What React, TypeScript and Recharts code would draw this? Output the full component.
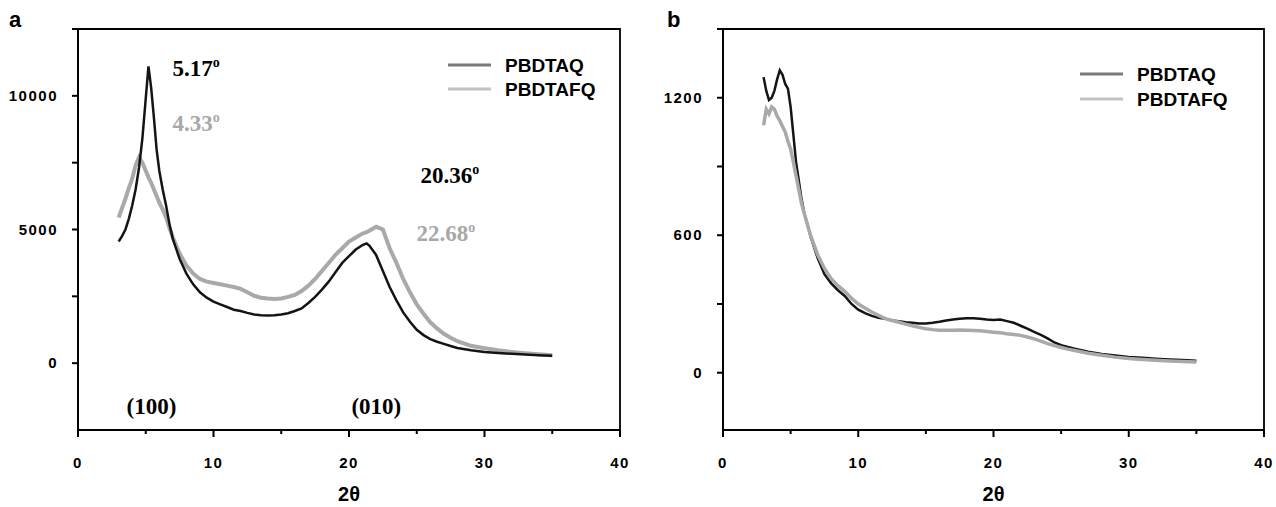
import React from 'react';
import { LineChart, Line, XAxis, YAxis, ReferenceDot, Legend } from 'recharts';

// ---------- Panel a data ----------
const aX = [3, 3.25, 3.5, 3.75, 4, 4.25, 4.5, 4.75, 5, 5.2, 5.4, 5.6, 5.8, 6, 6.25, 6.5, 6.75, 7, 7.5, 8, 8.5, 9, 9.5, 10, 10.5, 11, 11.5, 12, 12.5, 13, 13.5, 14, 14.5, 15, 15.5, 16, 16.5, 17, 17.5, 18, 18.5, 19, 19.5, 20, 20.5, 21, 21.3, 21.5, 22, 22.5, 23, 23.5, 24, 24.5, 25, 25.5, 26, 26.5, 27, 27.5, 28, 29, 30, 31, 32, 33, 34, 35];
const aPBDTAQ = [4550, 4750, 5000, 5400, 5900, 6500, 7300, 8400, 9900, 11100, 10300, 9200, 8000, 7200, 6500, 5900, 5200, 4650, 3900, 3350, 2950, 2650, 2450, 2300, 2200, 2100, 2000, 1950, 1880, 1820, 1790, 1780, 1790, 1820, 1870, 1950, 2050, 2250, 2480, 2750, 3050, 3400, 3750, 4000, 4250, 4420, 4480, 4400, 4050, 3450, 2850, 2350, 1900, 1550, 1250, 1050, 900, 800, 720, 640, 570, 480, 420, 380, 350, 320, 300, 280];
const aPBDTAFQ = [5450, 5800, 6150, 6550, 6900, 7400, 7700, 7500, 7200, 6950, 6750, 6500, 6250, 6000, 5750, 5450, 5050, 4700, 4100, 3650, 3350, 3150, 3050, 3000, 2950, 2900, 2850, 2780, 2650, 2520, 2450, 2420, 2400, 2420, 2480, 2550, 2700, 2900, 3150, 3450, 3750, 4050, 4300, 4550, 4700, 4850, 4900, 4950, 5100, 5000, 4300, 3750, 3150, 2650, 2200, 1850, 1530, 1300, 1100, 950, 820, 650, 560, 480, 420, 370, 330, 300];

// ---------- Panel b data ----------
const bX = [3, 3.2, 3.4, 3.6, 3.8, 4, 4.2, 4.4, 4.6, 4.8, 5, 5.2, 5.4, 5.6, 5.8, 6, 6.5, 7, 7.5, 8, 8.5, 9, 9.5, 10, 10.5, 11, 11.5, 12, 12.5, 13, 13.5, 14, 14.5, 15, 15.5, 16, 16.5, 17, 17.5, 18, 18.5, 19, 19.5, 20, 20.5, 21, 21.5, 22, 22.5, 23, 23.5, 24, 24.5, 25, 25.5, 26, 27, 28, 29, 30, 31, 32, 33, 34, 35];
const bPBDTAQ = [1290, 1230, 1190, 1200, 1230, 1280, 1320, 1300, 1260, 1240, 1160, 1040, 920, 840, 760, 700, 590, 500, 430, 390, 360, 335, 300, 275, 260, 248, 240, 235, 228, 225, 220, 218, 215, 215, 218, 222, 228, 232, 235, 238, 238, 236, 232, 230, 232, 225, 218, 205, 192, 178, 165, 150, 132, 120, 112, 105, 92, 82, 75, 69, 65, 61, 58, 55, 52];
const bPBDTAFQ = [1080, 1150, 1130, 1160, 1150, 1120, 1100, 1075, 1050, 1010, 975, 920, 860, 800, 740, 696, 595, 515, 455, 410, 380, 355, 325, 300, 282, 265, 250, 236, 228, 220, 212, 205, 198, 192, 188, 185, 185, 185, 186, 185, 184, 183, 180, 177, 174, 170, 167, 163, 156, 148, 138, 127, 118, 110, 103, 97, 85, 76, 68, 62, 58, 54, 51, 49, 47];

// ---------- Axes ----------
const xDomain: [number, number] = [0, 40];
const xTicks = [0, 5, 10, 15, 20, 25, 30, 35, 40];
const xLabeled = [0, 10, 20, 30, 40];
const aYDomain: [number, number] = [-2500, 12500];
const aYTicks = [0, 2500, 5000, 7500, 10000, 12500];
const aYLabeled = [0, 5000, 10000];
const bYDomain: [number, number] = [-250, 1500];
const bYTicks = [0, 300, 600, 900, 1200, 1500];
const bYLabeled = [0, 600, 1200];

const seriesNames = ['PBDTAQ', 'PBDTAFQ'];

// annotations (data coordinates) for panel a
const aAnnotations = [
  { x: 6.97, y: 10750, text: '5.17', deg: true, color: '#000' },
  { x: 6.97, y: 8690, text: '4.33', deg: true, color: '#a8a8a8' },
  { x: 25.27, y: 6740, text: '20.36', deg: true, color: '#000' },
  { x: 24.98, y: 4560, text: '22.68', deg: true, color: '#a8a8a8' },
  { x: 3.58, y: -1895, text: '(100)', deg: false, color: '#000' },
  { x: 20.18, y: -1895, text: '(010)', deg: false, color: '#000' },
];

const SANS = '"Liberation Sans", Arial, sans-serif';
const SERIF = '"Liberation Serif", "Times New Roman", serif';
const BLACK = '#141414';
const GRAY = '#a9a9a9';

const XTick = (props: any) => {
  const { x, y, payload } = props;
  const v = payload.value;
  const major = xLabeled.includes(v);
  return (
    <g>
      <line x1={x} x2={x} y1={y} y2={y + (major ? 7 : 4)} stroke="#000" strokeWidth={2} />
      {major && (
        <text x={x} y={y + 38} textAnchor="middle" fontFamily={SANS} fontWeight="bold" fontSize={15} letterSpacing={1.5} fill="#000">
          {v}
        </text>
      )}
    </g>
  );
};

const makeYTick = (labeled: number[]) => (props: any) => {
  const { x, y, payload } = props;
  const v = payload.value;
  return (
    <g>
      <line x1={x - 6} x2={x} y1={y} y2={y} stroke="#000" strokeWidth={2} />
      {labeled.includes(v) && (
        <text x={x - 20} y={y + 5} textAnchor="end" fontFamily={SANS} fontWeight="bold" fontSize={15} letterSpacing={1.5} fill="#000">
          {v}
        </text>
      )}
    </g>
  );
};

// Legend overlay: covers the plot box, draws its top/right frame edges and the legend entries
const makeLegend = (w: number, h: number, dx: number, dy: number, rowGap: number) => () => (
  <svg width={w + 3} height={h + 3} style={{ display: 'block', overflow: 'visible' }}>
    <path d={`M0 1 H${w} V${h}`} fill="none" stroke="#000" strokeWidth={1.8} />
    <g transform={`translate(${dx},${dy})`}>
      {seriesNames.map((n, i) => (
        <g key={n}>
          <line x1={0} x2={43} y1={10 + i * rowGap} y2={10 + i * rowGap} stroke={i === 0 ? '#7a7a7a' : '#c2c2c2'} strokeWidth={3} />
          <text x={57} y={10 + i * rowGap} dy="0.36em" fontFamily={SANS} fontWeight="bold" fontSize={19} fill="#000">
            {n}
          </text>
        </g>
      ))}
    </g>
  </svg>
);

const annotationShape = (a: any) => (p: any) => (
  <text x={p.cx} y={p.cy} fontFamily={SERIF} fontWeight="bold" fontSize={23} fill={a.color}>
    {a.text}
    {a.deg && (
      <tspan fontSize={14} dy={-9}>
        o
      </tspan>
    )}
  </text>
);

const axisLabel = (value: string) => ({
  value,
  position: 'insideBottom' as const,
  offset: 6,
  style: { fontFamily: SANS, fontWeight: 'bold', fontSize: 20, fill: '#000' },
});

const aData = aX.map((x, i) => ({ x, q: aPBDTAQ[i], fq: aPBDTAFQ[i] }));
const bData = bX.map((x, i) => ({ x, q: bPBDTAQ[i], fq: bPBDTAFQ[i] }));

const panelLabelStyle: React.CSSProperties = {
  position: 'absolute',
  top: 9,
  fontFamily: SANS,
  fontWeight: 'bold',
  fontSize: 22,
  lineHeight: '22px',
  color: '#000',
};

export default function App() {
  return (
    <div style={{ position: 'absolute', left: 0, top: 0, width: 1276, height: 507, background: '#fff', overflow: 'hidden' }}>
      {/* Panel a */}
      <div style={{ position: 'absolute', left: 0, top: 0 }}>
        <LineChart width={640} height={507} data={aData} margin={{ top: 29, right: 20, left: 0, bottom: 0 }}>
          <XAxis
            dataKey="x"
            type="number"
            domain={xDomain}
            ticks={xTicks}
            allowDataOverflow
            height={77}
            tickSize={0}
            tickMargin={0}
            tickLine={false}
            tick={<XTick />}
            axisLine={{ stroke: '#000', strokeWidth: 2 }}
            label={axisLabel('2θ')}
          />
          <YAxis
            type="number"
            domain={aYDomain}
            ticks={aYTicks}
            allowDataOverflow
            width={78}
            tickSize={0}
            tickMargin={0}
            tickLine={false}
            tick={makeYTick(aYLabeled)}
            axisLine={{ stroke: '#000', strokeWidth: 2 }}
          />
          <Line dataKey="fq" name={seriesNames[1]} stroke={GRAY} strokeWidth={4} dot={false} type="linear" isAnimationActive={false} />
          <Line dataKey="q" name={seriesNames[0]} stroke={BLACK} strokeWidth={2.5} dot={false} type="linear" isAnimationActive={false} />
          {aAnnotations.map((a, i) => (
            <ReferenceDot key={i} x={a.x} y={a.y} r={0} shape={annotationShape(a)} />
          ))}
          <Legend
            layout="horizontal"
            verticalAlign="middle"
            align="center"
            content={makeLegend(543, 402, 371, 27, 24)}
            wrapperStyle={{ position: 'absolute', left: 77, top: 28, width: 546, height: 405, pointerEvents: 'none' }}
          />
        </LineChart>
      </div>
      <div style={{ ...panelLabelStyle, left: 9 }}>a</div>

      {/* Panel b */}
      <div style={{ position: 'absolute', left: 640, top: 0 }}>
        <LineChart width={636} height={507} data={bData} margin={{ top: 29, right: 12, left: 0, bottom: 0 }}>
          <XAxis
            dataKey="x"
            type="number"
            domain={xDomain}
            ticks={xTicks}
            allowDataOverflow
            height={77}
            tickSize={0}
            tickMargin={0}
            tickLine={false}
            tick={<XTick />}
            axisLine={{ stroke: '#000', strokeWidth: 2 }}
            label={axisLabel('2θ')}
          />
          <YAxis
            type="number"
            domain={bYDomain}
            ticks={bYTicks}
            allowDataOverflow
            width={83}
            tickSize={0}
            tickMargin={0}
            tickLine={false}
            tick={makeYTick(bYLabeled)}
            axisLine={{ stroke: '#000', strokeWidth: 2 }}
          />
          <Line dataKey="q" name={seriesNames[0]} stroke={BLACK} strokeWidth={2.5} dot={false} type="linear" isAnimationActive={false} />
          <Line dataKey="fq" name={seriesNames[1]} stroke={GRAY} strokeWidth={3.5} dot={false} type="linear" isAnimationActive={false} />
          <Legend
            layout="horizontal"
            verticalAlign="middle"
            align="center"
            content={makeLegend(542, 402, 358, 36, 25)}
            wrapperStyle={{ position: 'absolute', left: 82, top: 28, width: 545, height: 405, pointerEvents: 'none' }}
          />
        </LineChart>
      </div>
      <div style={{ ...panelLabelStyle, left: 667 }}>b</div>
    </div>
  );
}
